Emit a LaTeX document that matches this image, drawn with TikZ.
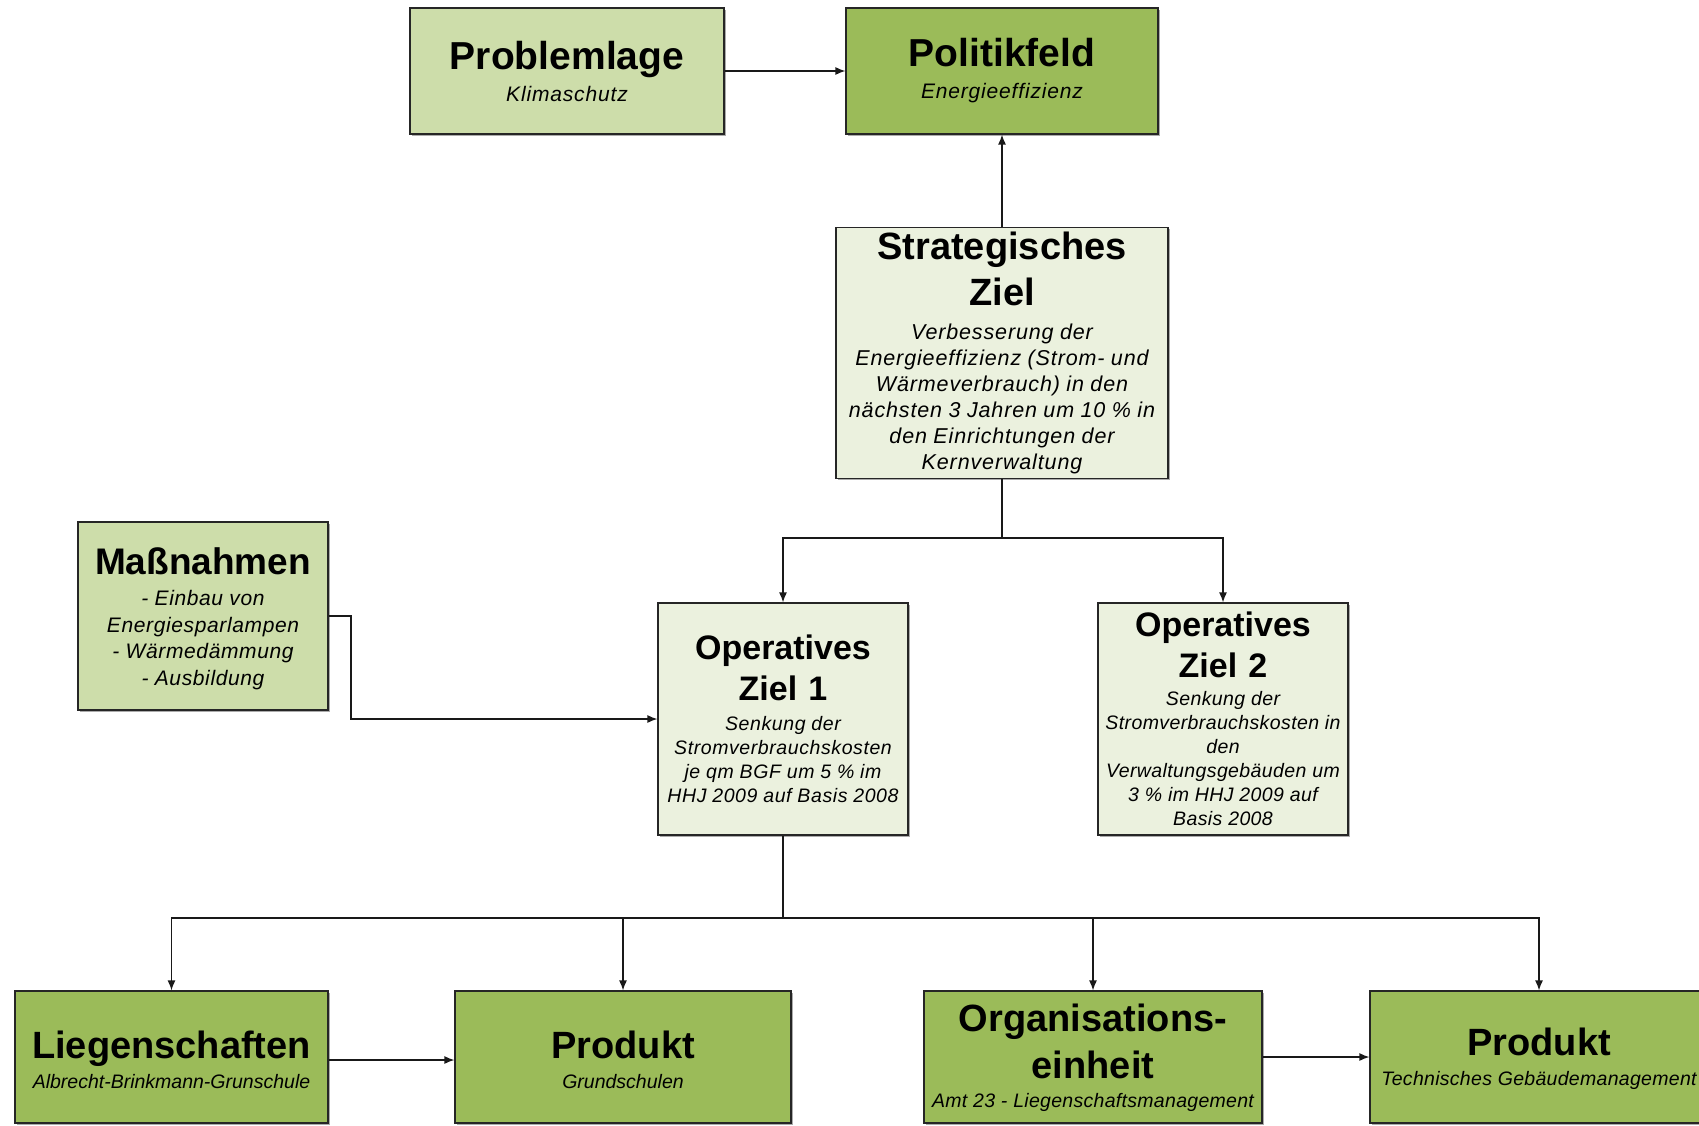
\documentclass[tikz,border=0pt]{standalone}
\usepackage{fontspec}
\setmainfont{Liberation Sans}
\usetikzlibrary{arrows.meta,shadows}
\definecolor{gLight}{RGB}{205,221,170}
\definecolor{gDark}{RGB}{155,187,89}
\definecolor{gPale}{RGB}{235,241,222}
\newcommand\HeadTxt[2]{\fontsize{#1}{#2}\selectfont\bfseries\upshape\spaceskip=0.33em\relax}
\newcommand\BodyTxt[2]{\fontsize{#1}{#2}\selectfont\mdseries\itshape}
\newcommand\SpacedTxt[3]{\fontsize{#1}{#2}\selectfont\mdseries\itshape\addfontfeature{LetterSpace=#3}\spaceskip=0.3em\relax}
\newcommand\TopPad[1]{\rule{0pt}{#1}}
\tikzset{
  box/.style={draw=black!85, line width=1.2pt, inner sep=0pt, align=center,
    drop shadow={shadow xshift=1.5pt, shadow yshift=-1.5pt, fill=black!55, opacity=0.6}},
  lightbox/.style={box, fill=gLight},
  darkbox/.style={box, fill=gDark},
  palebox/.style={box, fill=gPale},
  conn/.style={line width=1.3pt, draw=black!90, -{Latex[length=10pt,width=8pt]}},
  plain/.style={line width=1.3pt, draw=black!90},
}
\begin{document}
\begin{tikzpicture}[x=1pt,y=-1pt]
\clip (0,0) rectangle (1699,1125);
\fill[white] (0,0) rectangle (1699,1125);

% top row
\node[lightbox, text width=314pt, minimum height=126pt] (prob) at (567,71)
  {\HeadTxt{39}{46}Problemlage\par\vspace{8pt}\SpacedTxt{21}{24}{4}Klimaschutz\par};
\node[darkbox, text width=312pt, minimum height=126pt] (pol) at (1002,71)
  {\HeadTxt{39}{46}Politikfeld\par\vspace{8pt}\SpacedTxt{21}{24}{4}Energieeffizienz\par};

% strategic goal
\node[palebox, text width=332pt, minimum height=251pt] (strat) at (1002,353)
  {\HeadTxt{38}{46}Strategisches\\Ziel\par\vspace{8pt}
   \SpacedTxt{21.5}{26}{4}Verbesserung der\\Energieeffizienz (Strom- und\\W\"armeverbrauch) in den\\n\"achsten 3 Jahren um 10 \% in\\den Einrichtungen der\\Kernverwaltung\par};

% measures
\node[lightbox, text width=250pt, minimum height=188pt] (mass) at (203,616)
  {\HeadTxt{37}{45}\TopPad{32pt}Ma\ss nahmen\par\vspace{5pt}
   \SpacedTxt{21}{26.5}{3}- Einbau von\\Energiesparlampen\\- W\"armed\"ammung\\- Ausbildung\par};

% operative goals
\node[palebox, text width=250pt, minimum height=232pt] (op1) at (783,719)
  {\HeadTxt{34}{41}Operatives\\Ziel 1\par\vspace{6pt}
   \SpacedTxt{19.5}{24}{3}Senkung der\\Stromverbrauchskosten\\je qm BGF um 5 \% im\\HHJ 2009 auf Basis 2008\par};
\node[palebox, text width=250pt, minimum height=232pt] (op2) at (1223,719)
  {\HeadTxt{34}{41}Operatives\\Ziel 2\par\vspace{4pt}
   \SpacedTxt{19.5}{24}{2}Senkung der\\Stromverbrauchskosten in\\den\\Verwaltungsgeb\"auden um\\3 \% im HHJ 2009 auf\\Basis 2008\par};

% bottom row
\node[darkbox, text width=313pt, minimum height=132pt] (lieg) at (171.5,1057)
  {\HeadTxt{38}{46}\TopPad{34pt}Liegenschaften\par\vspace{6pt}\BodyTxt{19.5}{24}Albrecht-Brinkmann-Grunschule\par};
\node[darkbox, text width=336pt, minimum height=132pt] (prodA) at (623,1057)
  {\HeadTxt{38}{46}\TopPad{34pt}Produkt\par\vspace{6pt}\BodyTxt{19.5}{24}Grundschulen\par};
\node[darkbox, text width=338pt, minimum height=132pt] (org) at (1093,1057)
  {\HeadTxt{38}{47}\TopPad{30pt}Organisations-\\einheit\par\vspace{5pt}\SpacedTxt{19.5}{24}{1.5}Amt 23 - Liegenschaftsmanagement\par};
\node[darkbox, text width=338pt, minimum height=132pt] (prodB) at (1539,1057)
  {\HeadTxt{38}{46}\TopPad{32pt}Produkt\par\vspace{6pt}\SpacedTxt{19.5}{24}{1.5}Technisches Geb\"audemanagement\par};

% helper coordinates
\coordinate (sbus) at (1002,538);
\coordinate (mbend) at (351,616);
\coordinate (obus) at (783,918);

% connectors
\draw[conn] (prob.east) -- (pol.west);
\draw[conn] (strat.north) -- (pol.south);
\draw[plain] (strat.south) -- (sbus);
\draw[conn] (sbus) -| (op1.north);
\draw[conn] (sbus) -| (op2.north);
\draw[conn] (mass.east) -- (mbend) |- (op1.west);
\draw[plain] (op1.south) -- (obus);
\draw[conn] (obus) -| (lieg.north);
\draw[conn] (obus) -| (prodA.north);
\draw[conn] (obus) -| (org.north);
\draw[conn] (obus) -| (prodB.north);
\draw[conn] ([yshift=-3pt]lieg.east) -- ([yshift=-3pt]prodA.west);
\draw[conn] (org.east) -- (prodB.west);
\end{tikzpicture}
\end{document}
